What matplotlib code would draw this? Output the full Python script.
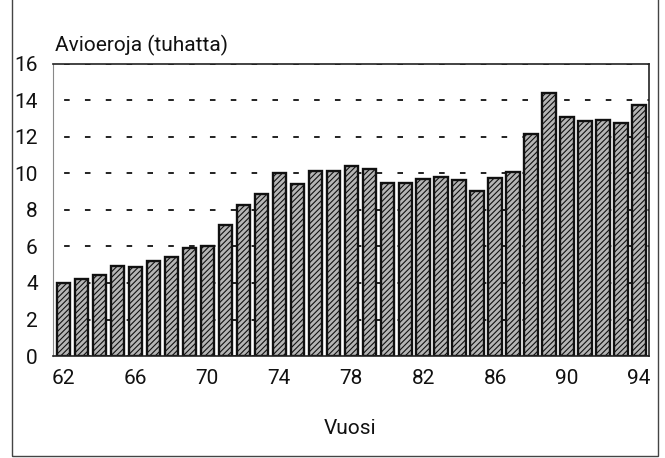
import matplotlib
matplotlib.use("Agg")
import matplotlib.pyplot as plt
from matplotlib.patches import Rectangle

years = list(range(62, 95))
divorces = [4.0, 4.2, 4.45, 4.95, 4.85, 5.2, 5.4, 5.9, 6.05, 7.2,
            8.3, 8.85, 10.05, 9.4, 10.15, 10.15, 10.4, 10.25, 9.5, 9.5,
            9.7, 9.8, 9.65, 9.05, 9.75, 10.1, 12.15, 14.4, 13.1, 12.85,
            12.95, 12.75, 13.75]
xtick_years = [62, 66, 70, 74, 78, 82, 86, 90, 94]
yticks = [0, 2, 4, 6, 8, 10, 12, 14, 16]

plt.rcParams["font.family"] = ["Roboto", "DejaVu Sans"]
plt.rcParams["hatch.color"] = "#2e2e2e"
plt.rcParams["hatch.linewidth"] = 0.8
plt.rcParams["lines.scale_dashes"] = False

fig = plt.figure(figsize=(6.65, 4.58), dpi=100)
ax = fig.add_axes([0.0797, 0.2227, 0.8963, 0.6376])

ax.set_axisbelow(True)
ax.yaxis.grid(True, color="#222222", linewidth=1.4, linestyle=(7, (4.0, 11.0)))
ax.bar(years, divorces, width=0.74, color="#b5b5b5", edgecolor="#111111",
       linewidth=1.7, hatch="//////")

ax.set_xlim(61.42, 94.56)
ax.set_ylim(0, 16)
ax.set_yticks(yticks)
ax.set_xticks(xtick_years)
ax.tick_params(length=0, labelsize=15, colors="#111111")
ax.tick_params(axis="y", pad=11)
ax.tick_params(axis="x", pad=9)

for side in ["top", "right", "bottom"]:
    ax.spines[side].set_color("#222222")
    ax.spines[side].set_linewidth(1.2)
ax.spines["left"].set_color("#888888")
ax.spines["left"].set_linewidth(0.8)

fig.text(0.083, 0.878, "Avioeroja (tuhatta)", fontsize=15, color="#111111",
         ha="left", va="bottom")
fig.text(0.527, 0.065, "Vuosi", fontsize=15, color="#111111",
         ha="center", va="center")

# outer frame
fig.patches.append(Rectangle((0.018, 0.004), 0.971, 1.2, transform=fig.transFigure,
                             fill=False, edgecolor="#444444", linewidth=1.0))

fig.savefig("out.png", dpi=100)
